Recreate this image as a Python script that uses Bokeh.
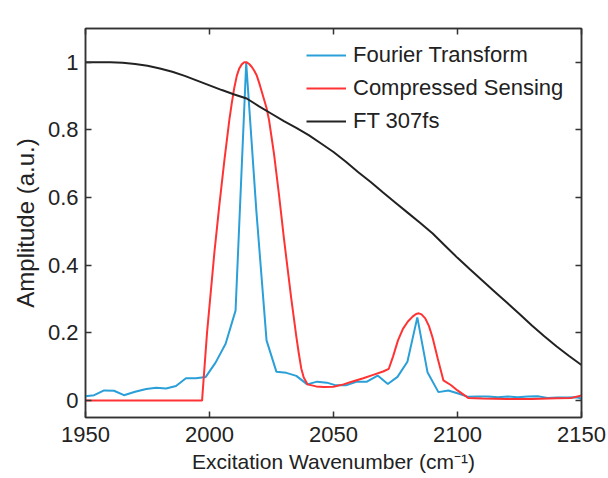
from bokeh.plotting import figure
from bokeh.models import LinearAxis, FixedTicker, Range1d, Legend, LegendItem
from bokeh.embed import file_html
from bokeh.resources import INLINE

# ---- data ----
ft_x = [1950, 1953.5, 1957.5, 1961.5, 1965.5, 1970, 1974.5, 1978.5, 1982.5, 1986.5,
        1990.5, 1994.5, 1998.5, 2002.5, 2006.5, 2010.5, 2014.8, 2018.9, 2023, 2027,
        2031, 2035, 2039.4, 2043.4, 2047.3, 2051, 2055, 2059.5, 2063.5, 2067.8,
        2071.9, 2075.8, 2079.8, 2083.8, 2087.9, 2092.3, 2096.3, 2100.3, 2104.3, 2108.3,
        2112.3, 2116.3, 2120.3, 2124.3, 2128.3, 2132.3, 2136.3, 2140.3, 2144.3, 2148.3, 2150]
ft_y = [0.013, 0.016, 0.030, 0.029, 0.016, 0.026, 0.034, 0.038, 0.036, 0.043,
        0.066, 0.066, 0.070, 0.113, 0.168, 0.266, 0.998, 0.56, 0.178, 0.085,
        0.082, 0.073, 0.048, 0.056, 0.053, 0.045, 0.045, 0.056, 0.056, 0.074,
        0.049, 0.070, 0.115, 0.246, 0.084, 0.025, 0.030, 0.021, 0.011, 0.012,
        0.012, 0.010, 0.012, 0.010, 0.012, 0.013, 0.008, 0.009, 0.009, 0.010, 0.005]

cs_x = [1950, 1997, 1998, 1999, 2000, 2001, 2002, 2003, 2004, 2005, 2006, 2007, 2008,
        2009, 2010, 2011, 2012, 2013, 2014, 2015, 2016, 2017, 2018, 2019, 2020, 2021,
        2022, 2023, 2024, 2025, 2026, 2027, 2028, 2029, 2030, 2031, 2032, 2033, 2034,
        2035, 2036, 2037, 2038, 2039.5, 2043, 2046, 2050, 2054, 2058, 2062, 2066, 2070,
        2072.3, 2074, 2076, 2078, 2080, 2082, 2083.3, 2084.4, 2085.5, 2087, 2088.5,
        2090, 2092, 2094.3, 2097.3, 2100, 2104.3, 2110, 2120, 2130, 2140, 2146, 2150]
cs_y = [0.0, 0.0, 0.10, 0.20, 0.28, 0.36, 0.44, 0.51, 0.58, 0.645, 0.71, 0.77, 0.83,
        0.88, 0.925, 0.96, 0.982, 0.994, 1.0, 1.0, 0.995, 0.987, 0.976, 0.962, 0.94, 0.915,
        0.89, 0.865, 0.83, 0.78, 0.73, 0.67, 0.61, 0.545, 0.48, 0.42, 0.36, 0.30, 0.245,
        0.19, 0.14, 0.095, 0.068, 0.048, 0.042, 0.040, 0.041, 0.048, 0.057, 0.066, 0.076, 0.086,
        0.094, 0.13, 0.178, 0.212, 0.234, 0.249, 0.256, 0.258, 0.255, 0.243, 0.22,
        0.185, 0.125, 0.06, 0.046, 0.030, 0.008, 0.006, 0.005, 0.005, 0.007, 0.008, 0.015]

ref_x = [1950, 1955, 1960, 1965, 1970, 1975, 1980, 1985, 1990, 1995, 2000, 2005, 2010,
         2015, 2020, 2025, 2030, 2035, 2040, 2045, 2050, 2055, 2060, 2065, 2070, 2075,
         2080, 2085, 2090, 2095, 2100, 2105, 2110, 2115, 2120, 2125, 2130, 2135, 2140,
         2145, 2150]
ref_y = [1.0, 1.0, 1.0, 0.999, 0.995, 0.99, 0.982, 0.972, 0.96, 0.946, 0.932, 0.918, 0.905,
         0.893, 0.87, 0.848, 0.826, 0.806, 0.785, 0.76, 0.735, 0.706, 0.675, 0.646, 0.615, 0.585,
         0.555, 0.525, 0.494, 0.458, 0.422, 0.388, 0.355, 0.322, 0.289, 0.256, 0.222, 0.19, 0.16,
         0.132, 0.105]

x_ticks = [1950, 2000, 2050, 2100, 2150]
y_ticks = [0, 0.2, 0.4, 0.6, 0.8, 1]
y_tick_labels = ["0", "0.2", "0.4", "0.6", "0.8", "1"]
series_names = ["Fourier Transform", "Compressed Sensing", "FT 307fs"]

FONT = "Liberation Sans"
TXT = "#222222"
EDGE = "#333333"

p = figure(width=608, height=478, output_backend="svg", toolbar_location=None,
           x_range=Range1d(1950, 2150), y_range=Range1d(-0.05, 1.1),
           min_border_left=85, min_border_right=27, min_border_top=28, min_border_bottom=61)
p.xgrid.visible = False
p.ygrid.visible = False
p.outline_line_color = EDGE
p.outline_line_width = 1.5
p.background_fill_color = "white"
p.border_fill_color = "white"

r_ft = p.line(ft_x, ft_y, line_color="#2a9fd8", line_width=2)
r_cs = p.line(cs_x, cs_y, line_color="#ff3333", line_width=2)
r_ref = p.line(ref_x, ref_y, line_color="#222222", line_width=2)

def style(ax):
    ax.major_tick_in = 6
    ax.major_tick_out = 0
    ax.minor_tick_line_color = None
    ax.major_tick_line_color = EDGE
    ax.major_tick_line_width = 1.5
    ax.axis_line_color = EDGE
    ax.axis_line_width = 1.5
    ax.major_label_text_font = FONT
    ax.major_label_text_color = TXT
    ax.axis_label_text_font = FONT
    ax.axis_label_text_color = TXT
    ax.axis_label_text_font_style = "normal"

xa = p.xaxis[0]
xa.ticker = FixedTicker(ticks=x_ticks)
style(xa)
xa.major_label_text_font_size = "22px"
xa.major_label_standoff = 9
xa.axis_label = "Excitation Wavenumber (cm\u207b\u00b9)"
xa.axis_label_text_font_size = "21px"
xa.axis_label_standoff = 5

ya = p.yaxis[0]
ya.ticker = FixedTicker(ticks=y_ticks)
ya.major_label_overrides = {t: s for t, s in zip(y_ticks, y_tick_labels)}
style(ya)
ya.major_label_text_font_size = "22px"
ya.major_label_standoff = 7
ya.axis_label = "Amplitude (a.u.)"
ya.axis_label_text_font_size = "24px"
ya.axis_label_standoff = 6

# box-style tick marks on top and right (no labels)
top = LinearAxis(ticker=FixedTicker(ticks=x_ticks))
style(top)
top.major_label_overrides = {t: "" for t in x_ticks}
top.major_label_text_font_size = "1px"
top.major_label_standoff = 0
p.add_layout(top, "above")
right = LinearAxis(ticker=FixedTicker(ticks=y_ticks))
style(right)
right.major_label_overrides = {t: "" for t in y_ticks}
right.major_label_text_font_size = "1px"
right.major_label_standoff = 0
p.add_layout(right, "right")

legend = Legend(items=[LegendItem(label=series_names[0], renderers=[r_ft]),
                       LegendItem(label=series_names[1], renderers=[r_cs]),
                       LegendItem(label=series_names[2], renderers=[r_ref])],
                location=(221, 283))
legend.border_line_color = None
legend.background_fill_alpha = 0
legend.label_text_font = FONT
legend.label_text_font_size = "22px"
legend.label_text_color = TXT
legend.glyph_width = 40
legend.label_standoff = 7
legend.spacing = 7
legend.padding = 4
legend.margin = 0
p.add_layout(legend)

open("out.html", "w").write(file_html(p, INLINE))
